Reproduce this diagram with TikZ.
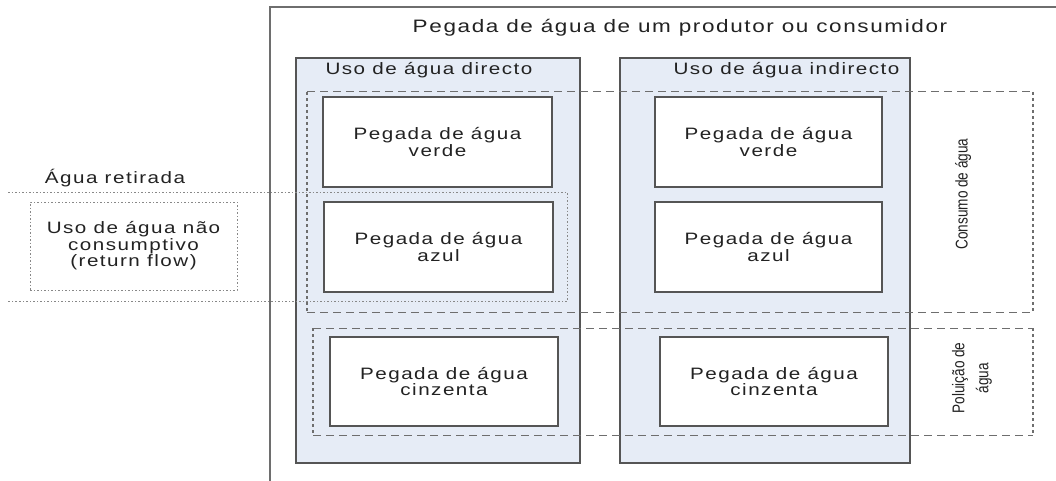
\documentclass[tikz,border=0pt]{standalone}
\usepackage{fontspec}
\setmainfont{Liberation Sans}[FakeStretch=1.25,LetterSpace=9]
\newfontfamily\narrowfont{Liberation Sans}[FakeStretch=0.8]
\usetikzlibrary{positioning}

\definecolor{colfill}{HTML}{E6ECF6}
\definecolor{linegray}{HTML}{555555}
\definecolor{textgray}{HTML}{222222}

\begin{document}
\begin{tikzpicture}[x = 1pt, y = -1pt,
		every node/.style = {text = textgray, font = \fontsize{16.5}{14}\selectfont},
		column/.style = {draw = linegray, line width = 1.6pt, fill = colfill, inner sep = 0pt},
		fpbox/.style = {draw = linegray, line width = 1.4pt, fill = white, align = center, inner sep = 0pt},
		hdash/.style = {draw = linegray!85, line width = 1pt, dash pattern = on 8pt off 5pt},
		vdash/.style = {draw = linegray!85, line width = 1.5pt, dash pattern = on 3pt off 3pt},
		dots/.style = {draw = linegray!70, line width = 1pt, dash pattern = on 1.5pt off 2pt}]
		\useasboundingbox (0,0) rectangle (1056,481);
		% Outer frame
		\draw[draw = linegray!85, line width = 1.6pt] (1056,7) -- (270,7) -- (270,481);
		\node[font = \fontsize{18}{18}\selectfont] (title) at (680,28) {Pegada de água de um produtor ou consumidor};
		% The two columns
		\node[column, minimum width = 284pt, minimum height = 405pt] (dcol) at (438,260.5) {};
		\node[column, minimum width = 290pt, minimum height = 405pt] (icol) at (765,260.5) {};
		\node[anchor = west] (dlabel) at (322,70) {Uso de água directo};
		\node[anchor = east] (ilabel) at (903,70) {Uso de água indirecto};
		% Consumo de agua (dashed)
		\draw[hdash] (307,92) -- (1033,92);
		\draw[hdash] (307,312) -- (1033,312);
		\draw[vdash] (307,92) -- (307,312);
		\draw[vdash] (1033,92) -- (1033,312);
		% Poluicao de agua (dashed)
		\draw[hdash] (313,328) -- (1033,328);
		\draw[hdash] (313,435) -- (1033,435);
		\draw[vdash] (313,328) -- (313,435);
		\draw[vdash] (1033,328) -- (1033,435);
		% Agua retirada (dotted)
		\draw[dots] (8,192) -- (567,192) -- (567,301) -- (8,301);
		\node (retlabel) at (115,178) {Água retirada};
		\node[dots, minimum width = 207pt, minimum height = 88pt, align = center, inner sep = 0pt] (naocons) at (133.5,246)
			{Uso de água não\\consumptivo\\(return flow)};
		% The footprint boxes
		\node[fpbox, minimum width = 229pt, minimum height = 90pt] (dverde) at (437.5,142) {Pegada de água\\verde};
		\node[fpbox, minimum width = 229pt, minimum height = 90pt] (dazul) at (438.5,247) {Pegada de água\\azul};
		\node[fpbox, minimum width = 228pt, minimum height = 89pt] (dcinz) at (444,381.5) {Pegada de água\\cinzenta};
		\node[fpbox, minimum width = 227pt, minimum height = 90pt] (iverde) at (768.5,142) {Pegada de água\\verde};
		\node[fpbox, minimum width = 227pt, minimum height = 90pt] (iazul) at (768.5,247) {Pegada de água\\azul};
		\node[fpbox, minimum width = 228pt, minimum height = 89pt] (icinz) at (774,381.5) {Pegada de água\\cinzenta};
		% Side labels
		\node[rotate = 90, font = \narrowfont\fontsize{17}{17}\selectfont] (consumo) at (963,194) {Consumo de água};
		\node[rotate = 90, align = center, font = \narrowfont\fontsize{17}{24}\selectfont] (poluicao) at (972,378) {Poluição de\\água};
	\end{tikzpicture}
\end{document}
